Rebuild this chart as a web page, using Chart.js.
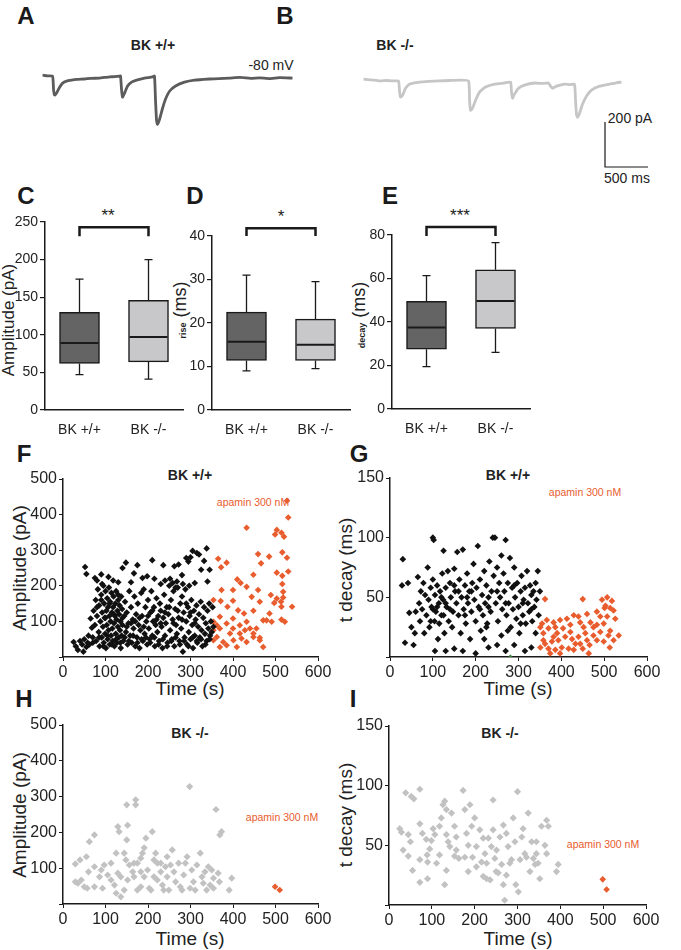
<!DOCTYPE html>
<html>
<head>
<meta charset="utf-8">
<script src="https://cdn.jsdelivr.net/npm/chart.js@4.4.0/dist/chart.umd.min.js"></script>
<style>
body { margin: 0; background: #fff; width: 681px; height: 950px; position: relative; overflow: hidden;
       font-family: "Liberation Sans", Arial, sans-serif; color: #222; }
canvas { position: absolute; }
.t { position: absolute; transform: translate(-50%, -50%); white-space: nowrap; line-height: 1; }
.rot { transform: translate(-50%, -50%) rotate(-90deg); }
.L { font-weight: bold; font-size: 24px; color: #1a1a1a; }
.h { font-weight: bold; font-size: 14px; }
.ap { font-size: 10.5px; color: #e85c2e; }
.ax { font-size: 19px; }
.st { font-size: 17px; }
.sm { font-size: 14px; }
</style>
</head>
<body>
<div class="t L" style="left:26px;top:16px">A</div>
<div class="t L" style="left:285px;top:16px">B</div>
<div class="t h" style="left:153px;top:45px">BK +/+</div>
<div class="t h" style="left:395px;top:45px">BK -/-</div>
<div class="t sm" style="left:271px;top:65px">-80 mV</div>
<div class="t sm" style="left:630px;top:118px">200 pA</div>
<div class="t sm" style="left:627px;top:178px">500 ms</div>

<div class="t L" style="left:26px;top:196px">C</div>
<div class="t L" style="left:195px;top:196px">D</div>
<div class="t L" style="left:390px;top:196px">E</div>
<div class="t st" style="left:108px;top:215px">**</div>
<div class="t st" style="left:281px;top:216px">*</div>
<div class="t st" style="left:460px;top:215px">***</div>
<div class="t rot" style="left:8px;top:320px;font-size:17px">Amplitude (pA)</div>
<div class="t rot" style="left:180px;top:310px;font-size:18px"><span style="font-size:9px;font-weight:bold">rise</span> (ms)</div>
<div class="t rot" style="left:359px;top:315px;font-size:18px"><span style="font-size:9px;font-weight:bold">decay</span> (ms)</div>

<div class="t L" style="left:24px;top:454px">F</div>
<div class="t L" style="left:359px;top:454px">G</div>
<div class="t L" style="left:24px;top:699px">H</div>
<div class="t L" style="left:353px;top:699px">I</div>
<div class="t h" style="left:190px;top:475px">BK +/+</div>
<div class="t h" style="left:508px;top:475px">BK +/+</div>
<div class="t h" style="left:190px;top:733px">BK -/-</div>
<div class="t h" style="left:500px;top:733px">BK -/-</div>
<div class="t ap" style="left:253px;top:502px">apamin 300 nM</div>
<div class="t ap" style="left:585px;top:492px">apamin 300 nM</div>
<div class="t ap" style="left:282px;top:817px">apamin 300 nM</div>
<div class="t ap" style="left:603px;top:844px">apamin 300 nM</div>
<div class="t ax" style="left:190px;top:688px">Time (s)</div>
<div class="t ax" style="left:518px;top:688px">Time (s)</div>
<div class="t ax" style="left:190px;top:938px">Time (s)</div>
<div class="t ax" style="left:518px;top:938px">Time (s)</div>
<div class="t rot ax" style="left:19px;top:568px">Amplitude (pA)</div>
<div class="t rot ax" style="left:345px;top:570px">t decay (ms)</div>
<div class="t rot ax" style="left:19px;top:815px">Amplitude (pA)</div>
<div class="t rot ax" style="left:345px;top:815px">t decay (ms)</div>

<script>
// example traces (ms, pA relative to holding current)
const traceAms = [0, 58, 116, 128, 140, 163, 198, 233, 279, 337, 400, 488, 560, 663, 720, 779, 840, 895, 907, 919, 930, 954, 989, 1035, 1093, 1186, 1279, 1302, 1314, 1326, 1337, 1361, 1396, 1430, 1477, 1547, 1651, 1768, 1942, 2050, 2175, 2300, 2420, 2524, 2640, 2760, 2908];
const traceApA = [4, 1, 0, -62, -84, -75, -49, -31, -22, -18, -15, -13, -10, -9, -6, -4, -2, 0, 0, -62, -93, -75, -44, -27, -18, -9, -4, 0, -107, -196, -213, -191, -142, -102, -67, -44, -27, -18, -13, -11, -9, -6, -10, -8, -11, -7, -9];
const traceBms = [0, 90, 186, 270, 361, 407, 419, 430, 454, 488, 535, 651, 760, 884, 1000, 1116, 1221, 1233, 1244, 1268, 1303, 1349, 1419, 1524, 1640, 1710, 1721, 1733, 1756, 1803, 1872, 1989, 2080, 2152, 2175, 2198, 2245, 2338, 2400, 2454, 2466, 2477, 2489, 2512, 2547, 2593, 2652, 2745, 2861, 2940, 3000];
const traceBpA = [4, 1, -4, -2, -4, -4, -53, -75, -67, -36, -18, -9, -6, -4, -2, 0, -4, -89, -133, -124, -89, -53, -31, -18, -13, -9, -53, -80, -62, -36, -22, -13, -15, -13, -27, -36, -27, -18, -20, -18, -89, -151, -164, -147, -107, -71, -44, -27, -18, -12, -9];

const groups = ['BK +/+', 'BK -/-'];
// C: amplitude (pA)
const ampMin = [47, 41], ampQ1 = [62, 64], ampMed = [89, 97], ampQ3 = [130, 146], ampMax = [174, 200];
// D: rise time (ms)
const riseMin = [9, 9.5], riseQ1 = [11.4, 11.4], riseMed = [15.7, 15], riseQ3 = [22.5, 20.9], riseMax = [31, 29.5];
// E: decay time (ms)
const decayMin = [19.5, 26], decayQ1 = [27.5, 37], decayMed = [37.5, 49.7], decayQ3 = [49.5, 64], decayMax = [61.3, 76.5];

// F: BK +/+ amplitude vs time [s, pA]
const fControl = [
  [52,253],[55,233],[75,222],[80,215],[92,205],[107,225],[148,265],[140,250],[175,258],[167,235],[210,272],[198,227],
  [236,258],[252,220],[258,208],[262,255],[272,260],[290,278],[295,268],[300,280],[305,298],[315,292],[320,288],[338,305],
  [332,270],[345,245],[325,245],[280,230],[268,212],[240,215],[215,220],[187,222],[160,210],[130,210],[118,215],[90,232],
  [340,212],[230,205],[282,205],[297,200],[310,208],[265,195],
  [25,42],[30,30],[35,20],[40,45],[45,35],[48,15],[50,50],[55,28],[58,40],[60,60],
  [62,35],[65,108],[68,82],[70,55],[72,130],[75,90],[77,160],[78,45],[80,115],[82,190],[84,70],[85,145],[86,30],[88,100],
  [90,175],[91,55],[92,125],[94,85],[95,200],[96,40],[97,150],[98,110],[99,65],[100,185],
  [101,25],[102,130],[103,90],[104,165],[105,50],[106,140],[107,75],[108,195],[109,115],[110,35],[111,155],[112,100],
  [113,60],[114,180],[115,125],[116,80],[117,45],[118,140],[119,170],[120,95],[121,30],[122,115],[123,150],[124,65],
  [125,185],[126,105],[127,40],[128,130],[129,85],[130,160],[131,55],[132,120],[133,145],[134,75],[135,100],[136,25],
  [137,170],[138,60],[139,135],[140,90],
  [142,45],[144,115],[146,155],[148,70],[150,125],[152,35],[154,95],[156,185],[158,60],[160,140],[162,40],[164,105],
  [166,80],[168,170],[170,30],[172,120],[174,55],[176,150],[178,90],[180,25],[182,75],[184,180],[186,115],[188,45],
  [190,190],[192,65],[194,140],[196,100],[198,35],[200,160],
  [202,80],[204,50],[206,125],[208,185],[210,60],[212,100],[214,140],[216,30],[218,90],[220,165],[222,70],[224,115],
  [226,45],[228,150],[230,130],[232,85],[234,25],[236,110],[238,175],[240,60],[242,95],[244,140],[246,40],[248,120],
  [250,200],[252,75],[254,160],[256,50],[258,105],[260,185],
  [262,30],[264,135],[266,90],[268,65],[270,195],[272,110],[274,45],[276,150],[278,80],[280,170],[282,15],[284,125],
  [286,55],[288,190],[290,100],[292,35],[294,140],[296,70],[298,115],[300,50],
  [302,160],[304,90],[306,25],[308,130],[310,60],[312,105],[314,145],[316,40],[318,85],[320,120],[322,55],[324,155],
  [326,75],[328,30],[330,110],[332,140],[334,65],[336,95],[338,45],[340,130],[342,80],[344,150],[346,60],[348,100],
  [350,70],[352,140],[354,85],
  [70,40],[85,55],[95,30],[105,60],[115,35],[125,50],[135,40],[145,55],[155,45],[165,60],[175,40],[185,50],[195,55],
  [205,40],[215,55],[225,35],[235,50],[245,30],[255,45],[265,55],[275,35],[285,45],[295,30],[305,55],[315,45],[325,50],
  [335,35],[345,50],[80,140],[90,160],[100,110],[110,150],[120,120],[130,175],[140,110],[150,85],[160,95],[170,100],
  [180,110],[190,85],[200,115],[210,130],[220,105],[230,95],[240,125],[250,140],[260,95],[270,130],[280,105],[290,150],
  [300,125],[310,95]
];
const fApamin = [
  [527,439],[530,392],[432,363],[503,357],[514,349],[499,344],[520,338],[459,289],[516,294],[485,282],[527,279],[365,276],
  [385,265],[372,252],[466,263],[530,240],[503,237],[448,231],[516,228],[410,218],[418,208],[432,197],[400,188],[373,188],
  [459,188],[516,205],[518,183],[489,174],[518,167],[503,164],[444,169],[463,155],[354,160],[371,157],[400,158],[497,152],
  [513,155],[539,141],[514,141],[387,141],[412,131],[426,122],[448,130],[486,122],[479,103],[491,99],[522,99],[514,105],
  [471,103],[432,99],[400,108],[369,113],[354,99],[385,94],[416,89],[440,80],[455,80],[369,80],[354,75],[393,66],[416,66],
  [448,56],[463,54],[401,47],[362,56],[377,42],[432,42],[409,28],[471,28],[385,33],[369,28],[448,66],[428,75],[400,80],
  [362,89],[463,47],[420,52],[354,47]
];

// G: BK +/+ decay vs time [s, ms]
const gControl = [
  [28,60],[30,82],[35,12],[42,62],[45,37],[50,25],[55,10],[58,20],[65,67],[68,45],[70,30],[72,55],[75,40],[78,62],[80,20],
  [82,52],[85,35],[88,75],[90,48],[92,25],[95,58],[97,42],[100,100],[102,98],[100,65],[104,30],[105,52],[107,38],[110,60],
  [112,15],[114,45],[115,28],[117,55],[120,35],[122,70],[124,48],[125,89],[127,20],[130,58],[132,42],[135,72],[137,30],
  [140,62],[142,50],[145,25],[147,38],[150,74],[152,55],[155,45],[157,88],[160,35],[162,65],[165,20],[167,50],[170,90],
  [172,40],[175,60],[177,28],[180,70],[182,45],[185,55],[187,15],[190,38],[192,62],[195,78],[197,48],[200,30],[202,58],
  [205,93],[207,42],[210,65],[212,22],[215,52],[217,35],[220,72],[222,45],[225,60],[227,28],[230,50],[232,80],[235,38],
  [237,55],[240,100],[242,68],[245,100],[247,45],[250,75],[252,30],[255,62],[257,50],[260,85],[262,40],[265,70],[267,55],
  [270,98],[272,35],[275,62],[277,45],[280,83],[282,25],[285,58],[287,40],[290,75],[292,50],[295,32],[297,62],[300,42],
  [302,20],[305,55],[307,68],[310,35],[312,48],[315,58],[317,28],[320,72],[322,45],[325,38],[327,60],[330,52],[332,30],
  [335,55],[337,42],[340,62],[342,48],[345,72],[347,35],[350,55],[315,5],[330,8],[270,5],[250,10],[230,8],[170,5],[150,7],
  [130,5],[105,5],[200,3],[220,15],[260,18],[290,10],[340,20],[60,38],[110,42],[120,50],[140,40],[160,55],[180,50],
  [100,40],[130,45],[150,60],[190,55],[210,40],[230,42],[250,55],[270,45],[290,60],[310,45],[330,40],[95,30],[125,35],
  [175,35],[225,25],[275,22],[305,28]
];
const gApamin = [
  [362,48.5],[450,48.5],[495,48],[507,50],[518,47],[514,41],[501,41],[483,38],[460,36],[429,35],[413,32],[397,31],[382,29],
  [366,31],[355,28],[526,32],[507,34],[499,28],[483,27],[468,29],[444,29],[421,27],[404,24],[386,25],[370,24],[358,20],
  [534,18],[514,22],[491,21],[475,18],[456,20],[440,17],[425,15],[409,17],[393,14],[378,13],[362,11],[351,8],[513,8],
  [499,13],[483,14],[466,10],[450,7],[433,11],[417,7],[401,8],[386,6],[370,7],[374,3],[464,3],[397,3],[429,6],[475,25],
  [460,14],[444,11],[522,14],[510,18],[421,21],[390,20],[491,34],[452,25],[382,17],[358,14],[351,25],[440,34],[503,43],
  [522,39]
];
const gOther = [[281,0.5]];

// H: BK -/- amplitude vs time [s, pA]
const hKnockout = [
  [29,112],[40,123],[55,132],[29,62],[43,67],[35,58],[60,90],[57,44],[74,48],[62,174],[74,193],[74,104],[90,95],[93,44],
  [86,76],[105,81],[113,67],[125,30],[136,20],[129,86],[125,142],[129,216],[132,202],[144,142],[148,123],[150,277],[152,220],
  [150,179],[156,109],[164,90],[152,67],[144,39],[171,291],[171,277],[175,114],[183,128],[187,142],[191,157],[195,184],
  [191,76],[183,48],[199,95],[207,39],[210,202],[214,123],[218,142],[222,67],[230,90],[234,53],[241,104],[245,76],[249,39],
  [257,151],[261,90],[265,62],[272,114],[276,48],[284,81],[292,132],[298,328],[303,95],[307,62],[315,109],[323,142],
  [327,76],[334,90],[342,104],[346,53],[354,44],[360,264],[365,86],[369,193],[373,202],[368,62],[397,72],[391,39],
  [113,114],[121,53],[167,76],[175,39],[203,44],[222,114],[237,39],[253,109],[280,39],[288,114],[299,44],[311,39],
  [330,58],[338,39],[350,95],[354,72],[214,76],[230,114],[245,132],[183,90],[167,114],[136,76],[97,109],[50,48]
];
const hApamin = [[499,48],[510,39]];

// I: BK -/- decay vs time [s, ms]
const iKnockout = [
  [25,64],[29,61],[33,46],[39,94],[52,91],[58,89],[45,59],[50,53],[45,41],[55,29],[72,97],[72,68],[78,60],[72,38],[72,19],
  [89,42],[90,36],[90,22],[99,54],[95,47],[107,59],[111,35],[118,66],[118,42],[122,73],[126,84],[130,87],[134,80],[134,59],
  [134,29],[130,17],[138,53],[142,49],[146,77],[153,66],[157,57],[157,46],[163,39],[173,96],[177,80],[181,60],[185,50],
  [185,28],[189,84],[193,66],[195,40],[200,73],[204,49],[204,32],[212,63],[216,36],[220,24],[224,43],[228,22],[232,56],
  [236,21],[239,49],[243,88],[243,63],[247,39],[250,28],[255,27],[259,57],[263,34],[267,67],[267,17],[270,4],[274,25],
  [278,49],[282,35],[286,38],[290,73],[294,53],[296,17],[300,95],[302,11],[306,38],[310,57],[313,64],[317,43],[325,77],
  [329,28],[333,53],[337,39],[341,34],[344,53],[348,35],[352,22],[356,66],[364,50],[368,71],[372,66],[368,43],[391,28],
  [395,34],[87,55],[103,64],[153,41],[220,56],[251,46],[274,60],[321,40],[344,43],[228,35],[177,40]
];
const iApamin = [[499,21.5],[508,13]];

Chart.defaults.font.family = '"Liberation Sans", Arial, sans-serif';
Chart.defaults.color = '#222';
const INK = '#1a1a1a';

function makeCanvas(plot, m) {
    const c = document.createElement('canvas');
    c.width = plot.r - plot.l + m.l + m.r;
    c.height = plot.b - plot.t + m.t + m.b;
    c.style.left = (plot.l - m.l) + 'px';
    c.style.top = (plot.t - m.t) + 'px';
    document.body.appendChild(c);
    return c.getContext('2d');
}

// traces: 500 ms = 43 px, 200 pA = 45 px
const msPx = 43 / 500, paPx = 45 / 200;
function traceChart(ms, pA, color, x0, y0) {
    const xmin = -100, xmax = 3100, ymin = -260, ymax = 40;
    const plot = { l: Math.round(x0 + xmin * msPx), t: Math.round(y0 - ymax * paPx) };
    plot.r = plot.l + Math.round((xmax - xmin) * msPx);
    plot.b = plot.t + Math.round((ymax - ymin) * paPx);
    const ctx = makeCanvas(plot, { l: 0, r: 0, t: 0, b: 0 });
    new Chart(ctx, {
        type: 'line',
        data: { datasets: [{ data: ms.map((t, i) => ({ x: t, y: pA[i] })), borderColor: color, borderWidth: 2.8,
                             pointRadius: 0, tension: 0.15, borderJoinStyle: 'round' }] },
        options: {
            responsive: false, animation: false,
            plugins: { legend: { display: false }, tooltip: { enabled: false } },
            scales: { x: { type: 'linear', min: xmin, max: xmax, display: false },
                      y: { min: ymin, max: ymax, display: false } }
        }
    });
}
traceChart(traceAms, traceApA, '#5c5c5c', 43, 75.5);
traceChart(traceBms, traceBpA, '#c6c6c6', 364, 80);

// scale bar, drawn on its own scales (ms, pA)
(function () {
    const plot = { l: 600, t: 117, r: 655, b: 172 };
    const ctx = makeCanvas(plot, { l: 0, r: 0, t: 0, b: 0 });
    const x0 = -5 / msPx, y1 = 5 / paPx;
    new Chart(ctx, {
        type: 'line',
        data: { datasets: [{ data: [{ x: 0, y: 200 }, { x: 0, y: 0 }, { x: 500, y: 0 }], borderColor: INK,
                             borderWidth: 1.2, pointRadius: 0 }] },
        options: {
            responsive: false, animation: false,
            plugins: { legend: { display: false }, tooltip: { enabled: false } },
            scales: { x: { type: 'linear', min: x0, max: x0 + 55 / msPx, display: false },
                      y: { min: -y1, max: -y1 + 55 / paPx, display: false } }
        }
    });
})();

function boxChart(plot, m, mn, q1, med, q3, mx, yMax, step, bracket) {
    const ctx = makeCanvas(plot, m);
    new Chart(ctx, {
        type: 'bar',
        data: {
            labels: groups,
            datasets: [{ data: q1.map((v, i) => [v, q3[i]]), backgroundColor: ['#646464', '#c8c8ca'],
                         borderColor: INK, borderWidth: 1.5, borderSkipped: false, barThickness: 40 }]
        },
        options: {
            responsive: false, animation: false,
            layout: { padding: { top: m.t, right: m.r, left: 0, bottom: 0 } },
            plugins: { legend: { display: false }, tooltip: { enabled: false } },
            scales: {
                x: { grid: { display: false }, border: { color: INK, width: 1.5 },
                     ticks: { font: { size: 14 }, color: '#222', padding: 4 },
                     afterFit: s => { s.height = m.b; } },
                y: { min: 0, max: yMax, border: { color: INK, width: 1.5 },
                     grid: { drawOnChartArea: false, tickLength: 5, color: INK, lineWidth: 1.2 },
                     ticks: { stepSize: step, font: { size: 14 }, color: '#222', padding: 2 },
                     afterFit: s => { s.width = m.l; } }
            }
        },
        plugins: [{
            id: 'whiskers',
            afterDatasetsDraw(chart) {
                const { ctx, scales: { x, y } } = chart;
                ctx.save();
                ctx.strokeStyle = INK;
                for (let i = 0; i < groups.length; i++) {
                    const cx = x.getPixelForValue(i);
                    ctx.lineWidth = 1.3;
                    ctx.beginPath();
                    ctx.moveTo(cx, y.getPixelForValue(q3[i])); ctx.lineTo(cx, y.getPixelForValue(mx[i]));
                    ctx.moveTo(cx - 4, y.getPixelForValue(mx[i])); ctx.lineTo(cx + 4, y.getPixelForValue(mx[i]));
                    ctx.moveTo(cx, y.getPixelForValue(q1[i])); ctx.lineTo(cx, y.getPixelForValue(mn[i]));
                    ctx.moveTo(cx - 4, y.getPixelForValue(mn[i])); ctx.lineTo(cx + 4, y.getPixelForValue(mn[i]));
                    ctx.stroke();
                    ctx.lineWidth = 2;
                    ctx.beginPath();
                    ctx.moveTo(cx - 19, y.getPixelForValue(med[i])); ctx.lineTo(cx + 19, y.getPixelForValue(med[i]));
                    ctx.stroke();
                }
                const xa = x.getPixelForValue(0), xb = x.getPixelForValue(1);
                const yt = y.getPixelForValue(bracket[0]), yf = y.getPixelForValue(bracket[1]);
                ctx.lineWidth = 2.5;
                ctx.beginPath();
                ctx.moveTo(xa, yf); ctx.lineTo(xa, yt); ctx.lineTo(xb, yt); ctx.lineTo(xb, yf);
                ctx.stroke();
                ctx.restore();
            }
        }]
    });
}
boxChart({ l: 45, t: 222, r: 183, b: 410 }, { l: 45, t: 16, r: 8, b: 26 },
         ampMin, ampQ1, ampMed, ampQ3, ampMax, 250, 50, [243, 231]);
boxChart({ l: 212, t: 236, r: 350, b: 410 }, { l: 32, t: 30, r: 8, b: 26 },
         riseMin, riseQ1, riseMed, riseQ3, riseMax, 40, 10, [41.8, 40]);
boxChart({ l: 392, t: 235, r: 530, b: 409 }, { l: 32, t: 30, r: 8, b: 26 },
         decayMin, decayQ1, decayMed, decayQ3, decayMax, 80, 20, [83.7, 79.5]);

function scatterChart(plot, m, sets, yMax, yStep) {
    const ctx = makeCanvas(plot, m);
    new Chart(ctx, {
        type: 'scatter',
        data: {
            datasets: sets.map(s => ({
                data: s.pts.map(p => ({ x: p[0], y: p[1] })), backgroundColor: s.color, borderWidth: 0,
                pointStyle: 'rectRot', pointRadius: s.r || 3.3
            }))
        },
        options: {
            responsive: false, animation: false,
            layout: { padding: { top: m.t, right: m.r, left: 0, bottom: 0 } },
            plugins: { legend: { display: false }, tooltip: { enabled: false } },
            scales: {
                x: { type: 'linear', min: 0, max: 600, border: { color: INK, width: 1.5 },
                     grid: { drawOnChartArea: false, tickLength: 4, color: INK },
                     ticks: { stepSize: 100, font: { size: 16 }, color: '#222', padding: 2 },
                     afterFit: s => { s.height = m.b; } },
                y: { min: 0, max: yMax, border: { color: INK, width: 1.5 },
                     grid: { drawOnChartArea: false, tickLength: 4, color: INK },
                     ticks: { stepSize: yStep, font: { size: 16 }, color: '#222', padding: 2,
                              callback: v => (v === 0 ? '' : v) },
                     afterFit: s => { s.width = m.l; } }
            }
        }
    });
}
const BLACK = '#111111', ORANGE = '#e85c2e', GREY = '#c2c2c2';
scatterChart({ l: 63, t: 479, r: 318, b: 657 }, { l: 63, t: 14, r: 18, b: 26 },
             [{ pts: fControl, color: BLACK }, { pts: fApamin, color: ORANGE }], 500, 100);
scatterChart({ l: 390, t: 478, r: 647, b: 657 }, { l: 36, t: 14, r: 18, b: 26 },
             [{ pts: gControl, color: BLACK }, { pts: gApamin, color: ORANGE }, { pts: gOther, color: '#2e7d32', r: 2 }], 150, 50);
scatterChart({ l: 63, t: 725, r: 318, b: 904 }, { l: 63, t: 14, r: 18, b: 26 },
             [{ pts: hKnockout, color: GREY, r: 3.6 }, { pts: hApamin, color: ORANGE }], 500, 100);
scatterChart({ l: 389, t: 726, r: 646, b: 905 }, { l: 36, t: 14, r: 18, b: 26 },
             [{ pts: iKnockout, color: GREY, r: 3.6 }, { pts: iApamin, color: ORANGE }], 150, 50);
</script>
</body>
</html>
